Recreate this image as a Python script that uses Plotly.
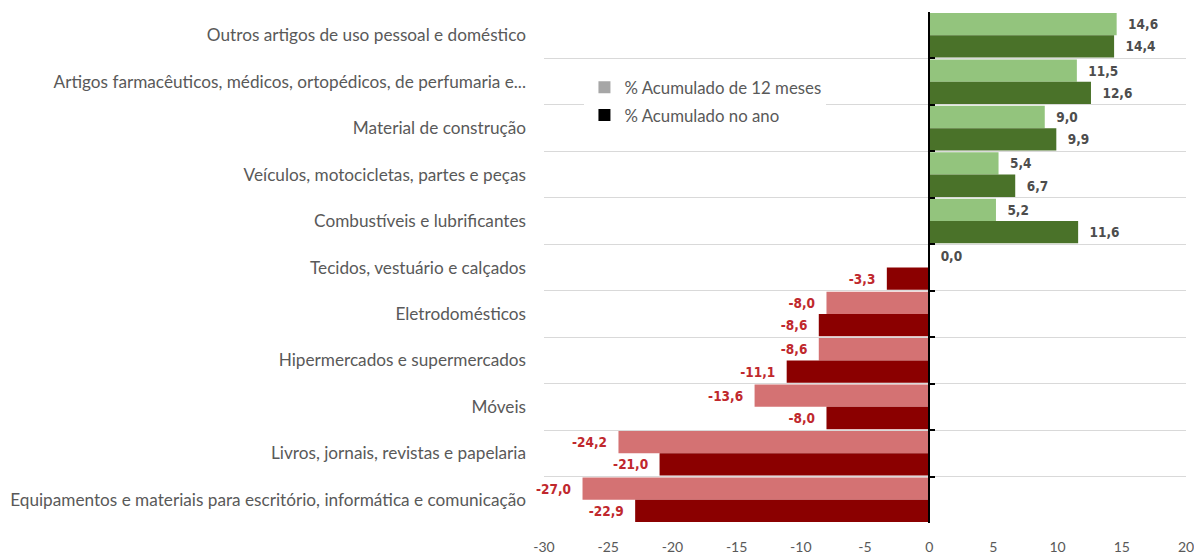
import plotly.graph_objects as go

categories = [
    "Outros artigos de uso pessoal e doméstico",
    "Artigos farmacêuticos, médicos, ortopédicos, de perfumaria e...",
    "Material de construção",
    "Veículos, motocicletas, partes e peças",
    "Combustíveis e lubrificantes",
    "Tecidos, vestuário e calçados",
    "Eletrodomésticos",
    "Hipermercados e supermercados",
    "Móveis",
    "Livros, jornais, revistas e papelaria",
    "Equipamentos e materiais para escritório, informática e comunicação",
]
acum_12_meses = [14.6, 11.5, 9.0, 5.4, 5.2, 0.0, -8.0, -8.6, -13.6, -24.2, -27.0]
acum_ano = [14.4, 12.6, 9.9, 6.7, 11.6, -3.3, -8.6, -11.1, -8.0, -21.0, -22.9]
x_ticks = [-30, -25, -20, -15, -10, -5, 0, 5, 10, 15, 20]

LIGHT_POS, LIGHT_NEG = "#93c47d", "#d47273"
DARK_POS, DARK_NEG = "#4a7229", "#8b0000"
LBL_POS, LBL_NEG = "#4d4d4d", "#c0282d"
NB = "\u00a0\u00a0"

def fmt(v):
    return f"{v:.1f}".replace(".", ",")

fig = go.Figure()
for vals, cpos, cneg in [(acum_12_meses, LIGHT_POS, LIGHT_NEG), (acum_ano, DARK_POS, DARK_NEG)]:
    fig.add_trace(go.Bar(
        y=categories, x=vals, orientation="h",
        marker=dict(color=[cpos if v >= 0 else cneg for v in vals], line=dict(width=0)),
        text=[fmt(v) for v in vals],
        texttemplate=[NB + "%{text}" if v >= 0 else "%{text}" + NB for v in vals],
        textposition="outside",
        outsidetextfont=dict(family="DejaVu Sans Condensed, Liberation Sans Narrow, sans-serif",
                             size=13.5, color=[LBL_POS if v >= 0 else LBL_NEG for v in vals],
                             weight="bold"),
        cliponaxis=False, showlegend=False, hoverinfo="skip",
    ))

# legend entries
for name, col, grp in [("% Acumulado de 12 meses", "#a6a6a6", "a"), ("% Acumulado no ano", "#000000", "b")]:
    fig.add_trace(go.Scatter(x=[None], y=[None], mode="markers", name=name, legendgroup=grp,
                             marker=dict(symbol="square", size=8, color=col)))

xmin, xmax = -30, 20
yrange = [len(categories) - 0.5, -0.5]
# page body has an 8px default margin; figure coordinates are offset accordingly
fig.update_layout(
    width=1194, height=546,
    margin=dict(l=535.5, r=16, t=4, b=31, autoexpand=False),
    paper_bgcolor="white", plot_bgcolor="white",
    barmode="group", bargap=0.04, bargroupgap=0,
    font=dict(family="Lato, Open Sans, sans-serif", color="#595959", size=15),
    xaxis=dict(range=[xmin, xmax], tickvals=x_ticks, ticktext=[str(v) for v in x_ticks],
               showgrid=False, zeroline=False, automargin=False, ticklabelstandoff=14,
               showline=False, ticks="", tickfont=dict(size=14, color="#595959")),
    yaxis=dict(type="category", categoryarray=categories, range=yrange, autorange=False,
               tickson="boundaries", showgrid=True, gridcolor="#d9d9d9", gridwidth=1,
               ticks="", showline=False, ticklabelstandoff=17, automargin=False,
               tickfont=dict(size=17.2, color="#595959")),
    yaxis2=dict(type="category", categoryarray=categories, overlaying="y", anchor="free",
                position=(0 - xmin) / (xmax - xmin), side="left",
                range=yrange, autorange=False,
                tickson="boundaries", showgrid=False, showticklabels=False, automargin=False,
                showline=True, linecolor="black", linewidth=2,
                ticks="inside", ticklen=5, tickcolor="black", tickwidth=2),
    legend=dict(x=0.063, y=0.887, xanchor="left", yanchor="top", bgcolor="white",
                font=dict(size=16.8, color="#595959"), tracegroupgap=3,
                itemsizing="constant", itemwidth=30),
)
# invisible trace to activate yaxis2
fig.add_trace(go.Scatter(x=[None] * len(categories), y=categories, yaxis="y2",
                         mode="markers", showlegend=False, hoverinfo="skip"))

fig.write_html("out.html")
